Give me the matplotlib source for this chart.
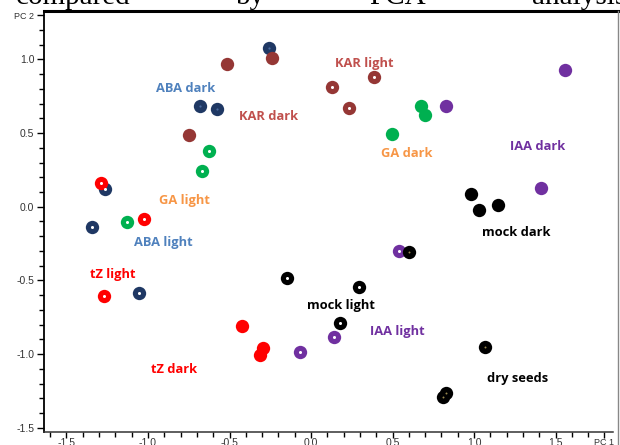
import matplotlib
matplotlib.use("Agg")
import matplotlib.pyplot as plt
from matplotlib.lines import Line2D
import numpy as np

# ---- data (PC1, PC2) ----
aba_dark_x = [-0.258, -0.681, -0.577]
aba_dark_y = [1.077, 0.683, 0.663]
aba_light_x = [-1.264, -1.344, -1.055]
aba_light_y = [0.120, -0.138, -0.585]

ga_dark_x = [0.675, 0.699, 0.497]
ga_dark_y = [0.683, 0.622, 0.493]
ga_light_x = [-0.626, -0.669, -1.129]
ga_light_y = [0.378, 0.242, -0.104]

kar_dark_x = [-0.239, -0.515, -0.748]
kar_dark_y = [1.009, 0.968, 0.486]
kar_light_x = [0.387, 0.129, 0.233]
kar_light_y = [0.880, 0.812, 0.670]

tz_light_x = [-1.288, -1.025, -1.270]
tz_light_y = [0.161, -0.083, -0.606]
tz_dark_x = [-0.423, -0.294, -0.313]
tz_dark_y = [-0.809, -0.958, -1.006]

iaa_dark_x = [1.558, 0.828, 1.411]
iaa_dark_y = [0.927, 0.683, 0.127]
iaa_light_x = [0.540, 0.141, -0.067]
iaa_light_y = [-0.300, -0.883, -0.986]

mock_dark_x = [0.982, 1.031, 1.147]
mock_dark_y = [0.086, -0.022, 0.012]
mock_light_x = [-0.147, 0.294, 0.178]
mock_light_y = [-0.484, -0.545, -0.789]

dry_x = [0.601, 1.067, 0.828, 0.810]
dry_y = [-0.307, -0.952, -1.264, -1.292]

group_labels = ["ABA dark", "ABA light", "KAR dark", "KAR light", "GA dark", "GA light",
                "tZ light", "tZ dark", "IAA dark", "IAA light", "mock dark", "mock light",
                "dry seeds"]
x_ticks = [-1.5, -1.0, -0.5, 0.0, 0.5, 1.0, 1.5]
y_ticks = [-1.5, -1.0, -0.5, 0.0, 0.5, 1.0]

C_ABA, C_KAR, C_GA, C_TZ, C_IAA, C_MOCK = "#1F3864", "#953735", "#00B050", "#FF0000", "#7030A0", "#000000"

fig = plt.figure(figsize=(6.2, 4.45), dpi=100)
ax = fig.add_axes([44/620, 13/445, (618-44)/620, (432-11)/445])
ax.set_xlim(-1.638, 1.883)
ax.set_ylim(-1.528, 1.328)

MS = 9.6

def pts(x, y, color, center=None, dot=2.2):
    ax.plot(x, y, 'o', ms=MS, color=color, mec=color, mew=0, zorder=3, ls='none')
    if center is not None:
        ax.plot(x, y, 'o', ms=dot, color=center, mew=0, zorder=3.1, ls='none')

pts(aba_dark_x, aba_dark_y, C_ABA, center="#4A6A9E", dot=1.6)
pts(aba_light_x, aba_light_y, C_ABA, center="white")
pts(ga_dark_x, ga_dark_y, C_GA)
pts(ga_light_x, ga_light_y, C_GA, center="white")
pts(kar_dark_x, kar_dark_y, C_KAR)
pts(kar_light_x, kar_light_y, C_KAR, center="white")
pts(tz_light_x, tz_light_y, C_TZ, center="white")
pts(tz_dark_x, tz_dark_y, C_TZ)
pts(iaa_dark_x, iaa_dark_y, C_IAA)
pts(iaa_light_x, iaa_light_y, C_IAA, center="white")
pts(mock_dark_x, mock_dark_y, C_MOCK)
pts(mock_light_x, mock_light_y, C_MOCK, center="white")
pts(dry_x, dry_y, C_MOCK, center="#9A8A50", dot=1.4)

# group labels
lab_pos = [(-0.767, 0.805), (-0.908, -0.240), (-0.258, 0.615), (0.325, 0.975),
           (0.589, 0.358), (-0.779, 0.045), (-1.215, -0.457), (-0.840, -1.101),
           (1.387, 0.412), (0.528, -0.843), (1.258, -0.178), (0.184, -0.667),
           (1.264, -1.162)]
lab_col = ["#4F81BD", "#4F81BD", "#C0504D", "#C0504D", "#F79646", "#F79646",
           "#FF0000", "#FF0000", "#7030A0", "#7030A0", "#000000", "#000000", "#000000"]
for t, (lx, ly), c in zip(group_labels, lab_pos, lab_col):
    ax.text(lx, ly, t, color=c, fontsize=9.3, fontweight='bold', family='Open Sans',
            ha='center', va='center', zorder=4)

# axes styling
ax.spines['right'].set_visible(False)
ax.spines['top'].set_linewidth(2.2)
ax.spines['top'].set_color('black')
ax.spines['left'].set_linewidth(1.3)
ax.spines['bottom'].set_linewidth(1.1)
ax.spines['bottom'].set_color('#333333')
ax.spines['bottom'].set_bounds(-1.638, 1.85)

ax.set_xticks(x_ticks + [1.8])
ax.set_xticklabels([f"{v:.1f}" for v in x_ticks] + ["PC 1"])
ax.set_yticks(y_ticks + [1.3])
ax.set_yticklabels([f"{v:.1f}" for v in y_ticks] + ["PC 2"])
ax.set_xticks(np.round(np.arange(-1.6, 1.81, 0.1), 2), minor=True)
ax.set_yticks(np.round(np.arange(-1.5, 1.31, 0.1), 2), minor=True)
ax.tick_params(axis='y', which='major', direction='out', length=5, width=1.0,
               labelsize=7.5, labelcolor='#333333', pad=2)
ax.tick_params(axis='x', which='major', direction='out', length=4, width=1.0,
               labelsize=7.5, labelcolor='#333333', pad=0.5)
ax.tick_params(axis='both', which='minor', direction='out', length=3.5, width=1.0)
for lbl in ax.get_xticklabels() + ax.get_yticklabels():
    lbl.set_family('Liberation Sans')
ax.get_xticklabels()[-1].set_fontsize(6.5)
ax.get_yticklabels()[-1].set_fontsize(6.5)

# right border line (grey)
fig.add_artist(Line2D([618/620, 618/620], [0, 434/445], color='#888888', lw=1.0,
                      transform=fig.transFigure))

# cut-off caption text at the top
words = [("compared", 16), ("by", 236), ("PCA", 369), ("analysis", 532)]
for w, px in words:
    fig.text(px/620, 1 - 4/445, w, family='Liberation Serif', fontsize=21,
             ha='left', va='baseline')

fig.savefig("out.png", dpi=100)
